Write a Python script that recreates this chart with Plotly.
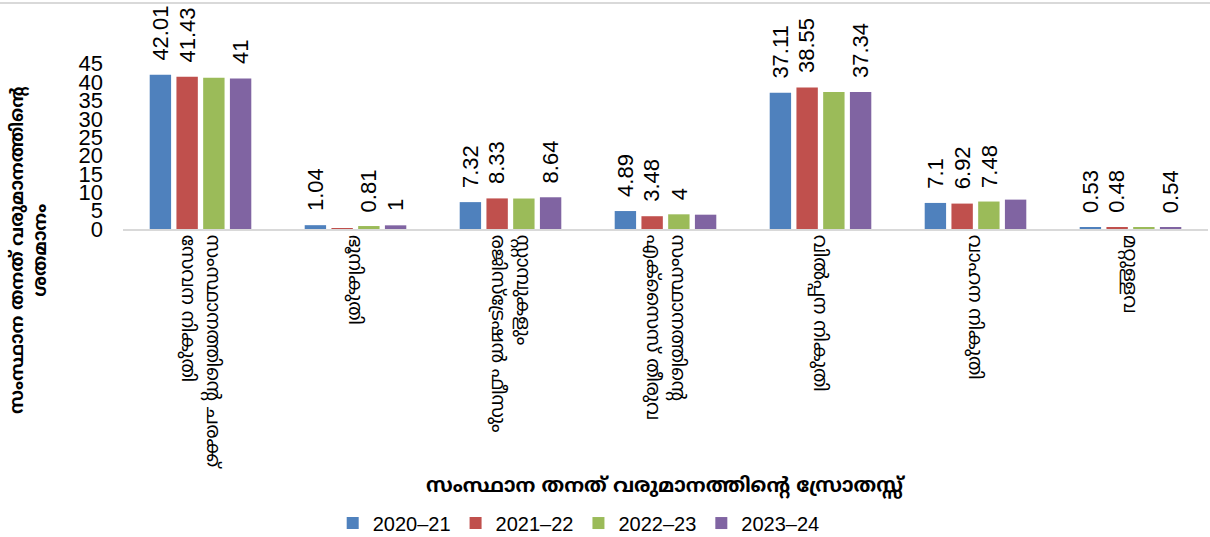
import plotly.graph_objects as go

categories = [
    "സംസ്ഥാനത്തിന്റെ ചരക്ക്<br>സേവന നികുതി",
    "ഭൂനികുതി",
    "സ്റ്റാമ്പുകളും<br>രജിസ്ട്രേഷൻ ഫീസും",
    "സംസ്ഥാനത്തിന്റെ<br>എക്സൈസ് തീരുവ",
    "വിൽപ്പന നികുതി",
    "വാഹന നികുതി",
    "മറ്റുള്ളവ",
]
series_names = ["2020–21", "2021–22", "2022–23", "2023–24"]
v2020 = [42.01, 1.04, 7.32, 4.89, 37.11, 7.1, 0.53]
v2021 = [41.43, 0.2, 8.33, 3.48, 38.55, 6.92, 0.48]
v2022 = [41.2, 0.81, 8.3, 4, 37.3, 7.48, 0.5]
v2023 = [41, 1, 8.64, 3.9, 37.34, 8.0, 0.54]
lab2020 = ["42.01", "1.04", "7.32", "4.89", "37.11", "7.1", "0.53"]
lab2021 = ["41.43", "", "8.33", "3.48", "38.55", "6.92", "0.48"]
lab2022 = ["", "0.81", "", "4", "", "7.48", ""]
lab2023 = ["41", "1", "8.64", "", "37.34", "", "0.54"]
y_ticks = [0, 5, 10, 15, 20, 25, 30, 35, 40, 45]

values = [v2020, v2021, v2022, v2023]
labels = [lab2020, lab2021, lab2022, lab2023]
colors = ["#4F81BD", "#C0504D", "#9BBB59", "#8064A2"]

ML = "Noto Sans Malayalam, Noto Sans, DejaVu Sans, sans-serif"
NUM = "Liberation Sans, Arial, sans-serif"

BARGAP = 0.31
GROUPGAP = 0.2

fig = go.Figure()
for name, vals, col in zip(series_names, values, colors):
    fig.add_trace(go.Bar(
        x=list(range(len(categories))), y=vals, name=name,
        marker=dict(color=col, line=dict(width=0)),
    ))

# data labels as rotated annotations above bars
n = len(series_names)
slot = (1 - BARGAP) / n
for i, labs in enumerate(labels):
    off = -(1 - BARGAP) / 2 + (i + 0.5) * slot
    for j, t in enumerate(labs):
        if not t:
            continue
        fig.add_annotation(
            x=j + off, y=values[i][j], xref="x", yref="y",
            text=t, textangle=-90, showarrow=False,
            xanchor="center", yanchor="bottom", yshift=12,
            font=dict(family=NUM, size=22, color="#000000"),
        )

# axis titles
fig.add_annotation(
    x=0.5, y=-1.152, xref="paper", yref="paper",
    text="<b>സംസ്ഥാന തനത് വരുമാനത്തിന്റെ സ്രോതസ്സ്</b>",
    showarrow=False, xanchor="center", yanchor="middle",
    font=dict(family=ML, size=20, color="#000000"),
)
fig.add_annotation(
    x=-0.0857, y=-0.094, xref="paper", yref="paper",
    text="<b>സംസ്ഥാന തനത് വരുമാനത്തിന്റെ<br>ശതമാനം</b>",
    showarrow=False, xanchor="center", yanchor="middle", textangle=-90, align="center",
    font=dict(family=ML, size=18, color="#000000"),
)

# top frame line
fig.add_shape(type="line", xref="paper", yref="paper",
              x0=-0.12, x1=1.01, y0=1.009, y1=1.009,
              line=dict(color="#d9d9d9", width=2))

fig.update_layout(
    width=1210, height=537,
    margin=dict(l=123, r=2, t=5, b=308),
    paper_bgcolor="#ffffff", plot_bgcolor="#ffffff",
    barmode="group", bargap=BARGAP, bargroupgap=GROUPGAP,
    showlegend=True,
    legend=dict(orientation="h", x=0.42, xanchor="center",
                y=0.026, yref="container", yanchor="middle",
                font=dict(family=NUM, size=20, color="#000000"),
                itemwidth=30, tracegroupgap=0),
    xaxis=dict(
        tickmode="array", tickvals=list(range(len(categories))), ticktext=categories,
        tickangle=90, showline=True, linecolor="#d9d9d9", linewidth=2,
        showgrid=False, ticks="", range=[-0.5, len(categories) - 0.5],
        automargin=False,
        tickfont=dict(family=ML, size=19, color="#000000"),
    ),
    yaxis=dict(
        range=[0, 61], tickmode="array", tickvals=y_ticks,
        showgrid=False, zeroline=False, showline=False, ticks="",
        ticklabelstandoff=19, automargin=False,
        tickfont=dict(family=NUM, size=22, color="#000000"),
    ),
)

fig.write_html("out.html", config={"displayModeBar": False},
               post_script="document.body.style.margin='0';document.body.style.overflow='hidden';")
